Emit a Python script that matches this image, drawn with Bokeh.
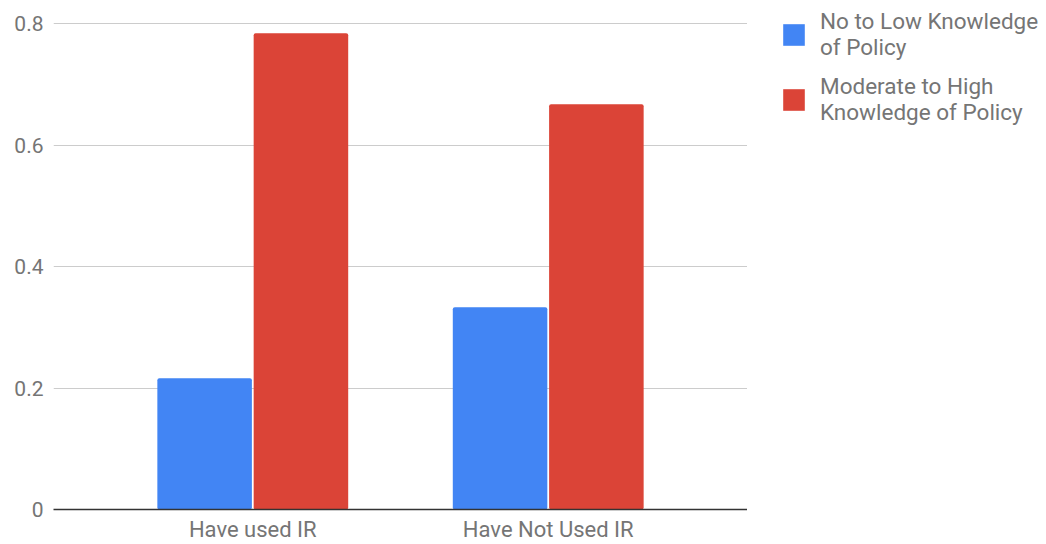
from bokeh.plotting import figure
from bokeh.layouts import row
from bokeh.models import (ColumnDataSource, FactorRange, Range1d, FixedTicker,
                          Legend, LegendItem)
from bokeh.transform import dodge
from bokeh.embed import file_html
from bokeh.resources import INLINE

# Share of respondents by knowledge level of the policy
categories = ["Have used IR", "Have Not Used IR"]
no_to_low = [0.216, 0.333]
moderate_to_high = [0.784, 0.667]
series_names = ["No to Low Knowledge\nof Policy", "Moderate to High\nKnowledge of Policy"]
y_ticks = [0, 0.2, 0.4, 0.6, 0.8]
y_tick_labels = ["0", "0.2", "0.4", "0.6", "0.8"]

BLUE = "#4285F4"
RED = "#DB4437"
TEXT = "#757575"
FONT = "Roboto"

source = ColumnDataSource(dict(cat=categories, low=no_to_low, high=moderate_to_high))

# Main bar chart (a little headroom above the top gridline)
p = figure(
    width=747, height=544, title=None,
    x_range=FactorRange(factors=categories, range_padding=0.1745,
                        range_padding_units="absolute"),
    y_range=Range1d(0, 0.838),
    output_backend="svg", toolbar_location=None,
    min_border_left=53, min_border_right=0,
    min_border_top=0, min_border_bottom=34,
)
p.outline_line_color = None

bar_w = 0.32
p.vbar(x=dodge("cat", -0.163, range=p.x_range), top="low", width=bar_w,
       source=source, fill_color=BLUE, line_color=None, border_radius=2)
p.vbar(x=dodge("cat", 0.163, range=p.x_range), top="high", width=bar_w,
       source=source, fill_color=RED, line_color=None, border_radius=2)

p.xgrid.grid_line_color = None
p.ygrid.grid_line_color = "#cccccc"
p.ygrid.grid_line_width = 1
p.ygrid.ticker = FixedTicker(ticks=y_ticks)

p.yaxis.ticker = FixedTicker(ticks=y_ticks)
p.yaxis.major_label_overrides = dict(zip(y_ticks, y_tick_labels))
p.yaxis.axis_line_color = None
p.yaxis.major_tick_line_color = None
p.yaxis.minor_tick_line_color = None
p.yaxis.major_tick_out = 0
p.yaxis.major_tick_in = 0
p.yaxis.major_label_standoff = 10
p.yaxis.major_label_text_font = FONT
p.yaxis.major_label_text_font_size = "21px"
p.yaxis.major_label_text_color = TEXT

p.xaxis.axis_line_color = "#333333"
p.xaxis.axis_line_width = 1.5
p.xaxis.major_tick_line_color = None
p.xaxis.minor_tick_line_color = None
p.xaxis.major_tick_out = 0
p.xaxis.major_tick_in = 0
p.xaxis.major_label_standoff = 7
p.xaxis.major_label_text_font = FONT
p.xaxis.major_label_text_font_size = "22px"
p.xaxis.major_label_text_color = TEXT

# Side panel holding the legend
lg = figure(
    width=299, height=544, title=None,
    x_range=FactorRange(factors=categories), y_range=Range1d(0, 1),
    output_backend="svg", toolbar_location=None,
    x_axis_location=None, y_axis_location=None,
    min_border_left=25, min_border_right=0, min_border_top=0, min_border_bottom=0,
)
lg.outline_line_color = None
lg.grid.grid_line_color = None
k_low = lg.vbar(x="cat", top="low", width=0.5, source=source,
                fill_color=BLUE, line_color=None, visible=False)
k_high = lg.vbar(x="cat", top="high", width=0.5, source=source,
                 fill_color=RED, line_color=None, visible=False)

legend = Legend(
    items=[LegendItem(label=series_names[0], renderers=[k_low]),
           LegendItem(label=series_names[1], renderers=[k_high])],
    location="top_left",
    padding=0, margin=8, spacing=13,
    glyph_width=27, glyph_height=27, label_standoff=13,
    label_text_font=FONT, label_text_font_size="22.5px",
    label_text_color=TEXT, label_text_line_height=0.9,
    border_line_color=None, background_fill_alpha=0,
    inactive_fill_alpha=0,
)
lg.add_layout(legend, "center")

layout = row(p, lg, spacing=0)
open("out.html", "w").write(file_html(layout, INLINE))
